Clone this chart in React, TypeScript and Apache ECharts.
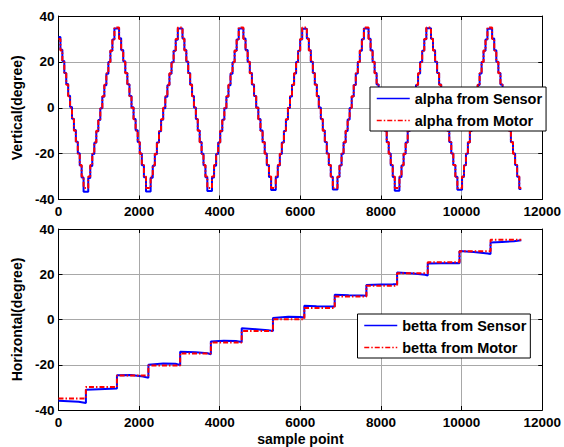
import React, { useEffect, useRef } from "react";
import * as echarts from "echarts";

// ---------- Top subplot: alpha (vertical) ----------
// x positions where each step level starts (sample index)
const alphaX: number[] = [
  0, 48, 96, 144, 192, 240, 287, 335, 383, 431, 479, 527, 574, 622,
  738, 788, 838, 888, 938, 988, 1037, 1087, 1137, 1187, 1237, 1287, 1337, 1387,
  1503, 1554, 1606, 1657, 1708, 1760, 1811, 1862, 1913, 1965, 2016, 2067, 2119, 2170,
  2286, 2338, 2390, 2441, 2493, 2545, 2597, 2649, 2701, 2752, 2804, 2856, 2908, 2960,
  3076, 3123, 3171, 3218, 3266, 3313, 3360, 3408, 3455, 3503, 3550, 3597, 3645, 3692,
  3808, 3859, 3910, 3961, 4012, 4063, 4114, 4165, 4216, 4267, 4318, 4369, 4420, 4471,
  4587, 4640, 4693, 4746, 4798, 4851, 4904, 4957, 5010, 5063, 5116, 5168, 5221, 5274,
  5390, 5440, 5491, 5541, 5592, 5642, 5692, 5743, 5793, 5844, 5894, 5944, 5995, 6045,
  6161, 6211, 6260, 6310, 6359, 6409, 6458, 6508, 6557, 6607, 6656, 6706, 6755, 6805,
  6921, 6971, 7022, 7072, 7123, 7173, 7223, 7274, 7324, 7375, 7425, 7475, 7526, 7576,
  7692, 7742, 7792, 7842, 7892, 7942, 7992, 8042, 8092, 8142, 8192, 8242, 8292, 8342,
  8458, 8509, 8561, 8612, 8663, 8715, 8766, 8817, 8868, 8920, 8971, 9022, 9074, 9125,
  9241, 9291, 9342, 9392, 9442, 9493, 9543, 9593, 9643, 9694, 9744, 9794, 9845, 9895,
  10011, 10059, 10108, 10156, 10205, 10253, 10302, 10350, 10399, 10447, 10496, 10544, 10593, 10641,
  10757, 10809, 10861, 10912, 10964, 11016, 11068, 11120, 11171, 11223, 11275, 11327, 11378, 11430,
  11480,
];

const alphaMotor: number[] = [
  30, 25, 20, 15, 10, 5, 0, -5, -10, -15, -20, -25, -30, -35,
  -30, -25, -20, -15, -10, -5, 0, 5, 10, 15, 20, 25, 30, 35,
  30, 25, 20, 15, 10, 5, 0, -5, -10, -15, -20, -25, -30, -35,
  -30, -25, -20, -15, -10, -5, 0, 5, 10, 15, 20, 25, 30, 35,
  30, 25, 20, 15, 10, 5, 0, -5, -10, -15, -20, -25, -30, -35,
  -30, -25, -20, -15, -10, -5, 0, 5, 10, 15, 20, 25, 30, 35,
  30, 25, 20, 15, 10, 5, 0, -5, -10, -15, -20, -25, -30, -35,
  -30, -25, -20, -15, -10, -5, 0, 5, 10, 15, 20, 25, 30, 35,
  30, 25, 20, 15, 10, 5, 0, -5, -10, -15, -20, -25, -30, -35,
  -30, -25, -20, -15, -10, -5, 0, 5, 10, 15, 20, 25, 30, 35,
  30, 25, 20, 15, 10, 5, 0, -5, -10, -15, -20, -25, -30, -35,
  -30, -25, -20, -15, -10, -5, 0, 5, 10, 15, 20, 25, 30, 35,
  30, 25, 20, 15, 10, 5, 0, -5, -10, -15, -20, -25, -30, -35,
  -30, -25, -20, -15, -10, -5, 0, 5, 10, 15, 20, 25, 30, 35,
  30, 25, 20, 15, 10, 5, 0, -5, -10, -15, -20, -25, -30, -35,
  -35,
];

const alphaSensor: number[] = [
  30.8, 25.3, 20.4, 15.2, 10.3, 5.2, 0.3, -4.8, -9.7, -14.8, -19.8, -25.2, -30.4, -36.6,
  -30.6, -25.4, -20.2, -15.3, -10.2, -5.3, -0.2, 4.8, 9.8, 14.8, 19.9, 24.8, 29.8, 34.6,
  30.3, 25.2, 20.3, 15.2, 10.2, 5.1, 0.2, -4.9, -9.8, -14.9, -19.9, -25.1, -30.3, -36.5,
  -30.5, -25.3, -20.3, -15.2, -10.2, -5.2, -0.2, 4.8, 9.8, 14.8, 19.8, 24.8, 29.7, 34.5,
  30.2, 25.2, 20.2, 15.1, 10.1, 5.1, 0.1, -4.9, -9.9, -14.9, -20.0, -25.1, -30.3, -36.3,
  -30.4, -25.3, -20.2, -15.2, -10.2, -5.2, -0.2, 4.8, 9.8, 14.8, 19.8, 24.8, 29.8, 34.6,
  30.2, 25.2, 20.1, 15.1, 10.1, 5.1, 0.1, -4.9, -9.9, -14.9, -19.9, -25.1, -30.2, -35.9,
  -30.3, -25.2, -20.2, -15.2, -10.1, -5.1, -0.1, 4.9, 9.9, 14.9, 19.9, 24.9, 29.8, 34.4,
  30.2, 25.1, 20.1, 15.1, 10.1, 5.1, 0.1, -4.9, -9.9, -14.9, -19.9, -25.0, -30.1, -35.6,
  -30.2, -25.2, -20.1, -15.1, -10.1, -5.1, -0.1, 4.9, 9.9, 14.9, 19.9, 24.9, 29.9, 34.6,
  30.1, 25.1, 20.1, 15.1, 10.1, 5.1, 0.1, -4.9, -9.9, -14.9, -19.9, -25.1, -30.2, -36.2,
  -30.2, -25.2, -20.1, -15.1, -10.1, -5.1, -0.1, 4.9, 9.9, 14.9, 19.9, 24.9, 29.9, 34.7,
  30.1, 25.1, 20.1, 15.1, 10.1, 5.1, 0.1, -4.9, -9.9, -14.9, -19.9, -25.0, -30.1, -35.7,
  -30.2, -25.1, -20.1, -15.1, -10.1, -5.1, -0.1, 4.9, 9.9, 14.9, 19.9, 24.9, 29.8, 34.4,
  30.2, 25.1, 20.1, 15.1, 10.1, 5.1, 0.1, -4.9, -9.9, -14.9, -19.9, -25.0, -30.1, -35.4,
  -35.4,
];

// ---------- Bottom subplot: betta (horizontal) ----------
const bettaMotorX: number[] = [0, 680, 1450, 2230, 3018, 3780, 4545, 5320, 6098, 6852, 7638, 8400, 9160, 9948, 10718, 11480];
const bettaMotor: number[] = [-34.9, -29.8, -24.8, -20.3, -15.0, -10.2, -5.1, 0.1, 5.1, 10.2, 14.9, 20.4, 25.3, 30.2, 35.2, 35.2];

const bettaSensorX: number[] = [
  0, 250, 500, 680,
  680, 1000, 1300, 1450,
  1450, 1800, 2100, 2230,
  2230, 2600, 2900, 3018,
  3018, 3400, 3700, 3780,
  3780, 4100, 4400, 4545,
  4545, 4900, 5200, 5320,
  5320, 5700, 6000, 6098,
  6098, 6400, 6750, 6852,
  6852, 7200, 7550, 7638,
  7638, 8000, 8300, 8400,
  8400, 8800, 9100, 9160,
  9160, 9500, 9850, 9948,
  9948, 10300, 10650, 10718,
  10718, 11000, 11300, 11480,
];
const bettaSensor: number[] = [
  -35.9, -36.1, -36.4, -36.9,
  -31.1, -30.8, -30.6, -30.5,
  -24.6, -24.5, -25.2, -25.8,
  -20.0, -19.4, -19.6, -20.1,
  -14.3, -14.5, -14.9, -15.4,
  -9.7, -9.4, -9.5, -9.9,
  -3.9, -4.3, -4.7, -5.1,
  0.7, 1.2, 1.1, 0.9,
  6.1, 5.9, 5.8, 5.7,
  10.9, 10.7, 10.6, 10.5,
  15.3, 15.5, 15.6, 15.7,
  20.8, 20.3, 19.8, 19.4,
  24.7, 24.9, 25.0, 24.9,
  30.3, 29.8, 29.2, 28.9,
  34.0, 34.3, 34.6, 35.0,
];

const xTicks = { min: 0, max: 12000, interval: 2000 };
const yTicks = { min: -40, max: 40, interval: 20 };

const FONT = "'Liberation Sans', Arial, Helvetica, sans-serif";

function buildAxes(gridIndex: number, showName: boolean) {
  const labelStyle = {
    fontFamily: FONT,
    fontWeight: "bold" as const,
    fontSize: 13.5,
    color: "#000",
  };
  const plain = (v: number) => String(v);
  const x = [
    {
      type: "value",
      gridIndex,
      ...xTicks,
      position: "bottom",
      axisLine: { show: true, onZero: false, lineStyle: { color: "#000", width: 1 } },
      axisTick: { show: true, inside: true, length: 4, lineStyle: { color: "#000" } },
      axisLabel: { ...labelStyle, margin: 5, showMinLabel: true, showMaxLabel: true, formatter: plain },
      splitLine: { show: true, lineStyle: { color: "#a8a8a8", width: 1 } },
      name: showName ? "sample point" : "",
      nameLocation: "middle",
      nameGap: 22,
      nameTextStyle: { ...labelStyle, fontSize: 14 },
    },
    {
      type: "value",
      gridIndex,
      ...xTicks,
      position: "top",
      axisLine: { show: true, onZero: false, lineStyle: { color: "#000", width: 1 } },
      axisTick: { show: true, inside: true, length: 4, lineStyle: { color: "#000" } },
      axisLabel: { show: false },
      splitLine: { show: false },
    },
  ];
  const y = [
    {
      type: "value",
      gridIndex,
      ...yTicks,
      position: "left",
      axisLine: { show: true, onZero: false, lineStyle: { color: "#000", width: 1 } },
      axisTick: { show: true, inside: true, length: 4, lineStyle: { color: "#000" } },
      axisLabel: { ...labelStyle, margin: 4, showMinLabel: true, showMaxLabel: true, formatter: plain },
      splitLine: { show: true, lineStyle: { color: "#a8a8a8", width: 1 } },
      name: gridIndex === 0 ? "Vertical(degree)" : "Horizontal(degree)",
      nameLocation: "middle",
      nameRotate: 90,
      nameGap: 29,
      nameTextStyle: { ...labelStyle, fontSize: 14 },
    },
    {
      type: "value",
      gridIndex,
      ...yTicks,
      position: "right",
      axisLine: { show: true, onZero: false, lineStyle: { color: "#000", width: 1 } },
      axisTick: { show: true, inside: true, length: 4, lineStyle: { color: "#000" } },
      axisLabel: { show: false },
      splitLine: { show: false },
    },
  ];
  return { x, y };
}

const BLUE = "#0000ff";
const RED = "#ff0000";
const DASHDOT = [5, 2, 1.5, 2];

export default function App() {
  const ref = useRef<HTMLDivElement>(null);

  useEffect(() => {
    if (!ref.current) return;
    const chart = echarts.init(ref.current, undefined, { renderer: "svg" });
    const a0 = buildAxes(0, false);
    const a1 = buildAxes(1, true);

    const legendCommon = {
      orient: "vertical",
      backgroundColor: "#fff",
      borderColor: "#000",
      borderWidth: 1,
      borderRadius: 0,
      itemGap: 7,
      itemWidth: 33,
      itemHeight: 14,
      selectedMode: false,
      itemStyle: { opacity: 0 },
      lineStyle: { width: 1.5 },
      textStyle: { fontFamily: FONT, fontWeight: "bold", fontSize: 14.5, color: "#000" },
    };

    const option: any = {
      animation: false,
      backgroundColor: "#fff",
      grid: [
        { left: 58.5, right: 18.5, top: 16, height: 183.5 },
        { left: 58.5, right: 18.5, top: 229, height: 182.5 },
      ],
      xAxis: [...a0.x, ...a1.x],
      yAxis: [...a0.y, ...a1.y],
      legend: [
        {
          ...legendCommon,
          data: ["alpha from Sensor", "alpha from Motor"],
          left: 370,
          top: 87,
          padding: [4, 4, 3, 6],
        },
        {
          ...legendCommon,
          data: ["betta from Sensor", "betta from Motor"],
          left: 357.5,
          top: 314,
          padding: [4, 4, 3, 6],
        },
      ],
      series: [
        {
          name: "alpha from Sensor",
          type: "line",
          xAxisIndex: 0,
          yAxisIndex: 0,
          step: "end",
          symbol: "none",
          color: BLUE,
          lineStyle: { color: BLUE, width: 2 },
          data: alphaX.map((x, i) => [x, alphaSensor[i]]),
        },
        {
          name: "alpha from Motor",
          type: "line",
          xAxisIndex: 0,
          yAxisIndex: 0,
          step: "end",
          symbol: "none",
          color: RED,
          lineStyle: { color: RED, width: 2, type: DASHDOT },
          data: alphaX.map((x, i) => [x, alphaMotor[i]]),
        },
        {
          name: "betta from Sensor",
          type: "line",
          xAxisIndex: 2,
          yAxisIndex: 2,
          symbol: "none",
          color: BLUE,
          lineStyle: { color: BLUE, width: 2 },
          data: bettaSensorX.map((x, i) => [x, bettaSensor[i]]),
        },
        {
          name: "betta from Motor",
          type: "line",
          xAxisIndex: 2,
          yAxisIndex: 2,
          step: "end",
          symbol: "none",
          color: RED,
          lineStyle: { color: RED, width: 2, type: DASHDOT },
          data: bettaMotorX.map((x, i) => [x, bettaMotor[i]]),
        },
      ],
    };
    chart.setOption(option);
    return () => chart.dispose();
  }, []);

  return (
    <div
      ref={ref}
      style={{ position: "fixed", left: 0, top: 0, width: 564, height: 447, background: "#fff" }}
    />
  );
}
